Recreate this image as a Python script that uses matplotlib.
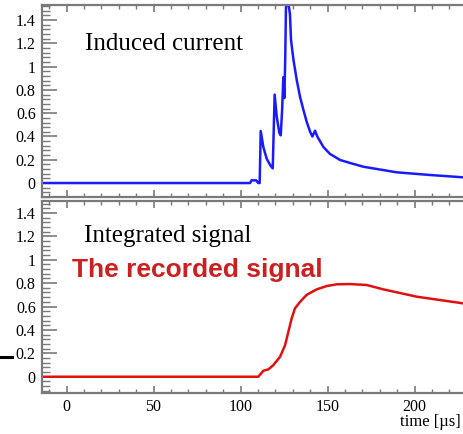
import matplotlib
matplotlib.use("Agg")
import matplotlib.pyplot as plt
from matplotlib.ticker import MultipleLocator, FixedLocator
from matplotlib.lines import Line2D

# Induced current (top panel)
t_cur = [-14, 105.5, 106.3, 109.0, 110.2, 111.0, 111.6, 113.1, 115.0, 117.0, 118.5,
         119.6, 120.8, 122.3, 123.1, 123.9, 124.6, 125.2, 125.7, 126.1, 127.2,
         128.4, 129.0, 130.4, 132.3, 134.2, 136.1, 138.0, 140.0, 141.3, 142.8,
         144.1, 147.6, 151.4, 157.2, 163.0, 170.6, 189.8, 209.0, 228.0, 240]
i_cur = [0, 0, 0.023, 0.023, 0.0, 0.0, 0.447, 0.31, 0.21, 0.155, 0.126,
         0.76, 0.57, 0.43, 0.41, 0.63, 0.91, 0.73, 1.085, 1.51, 1.58,
         1.45, 1.23, 1.06, 0.885, 0.74, 0.63, 0.527, 0.44, 0.40, 0.45,
         0.40, 0.31, 0.25, 0.198, 0.172, 0.14, 0.092, 0.069, 0.049, 0.043]

# Integrated signal (bottom panel)
t_int = [-14, 110.2, 113.1, 116.0, 118.9, 122.7, 125.6, 127.5, 129.4, 131.3, 134.2,
         138.0, 143.8, 149.5, 155.3, 163.0, 172.5, 182.0, 201.3, 228.0, 240]
s_int = [0, 0, 0.051, 0.063, 0.10, 0.17, 0.27, 0.385, 0.50, 0.585, 0.64,
         0.70, 0.747, 0.775, 0.79, 0.792, 0.784, 0.747, 0.684, 0.627, 0.60]

y_ticks = [0, 0.2, 0.4, 0.6, 0.8, 1.0, 1.2, 1.4]
y_labels = ["0", "0.2", "0.4", "0.6", "0.8", "1", "1.2", "1.4"]
x_ticks = [0, 50, 100, 150, 200]
x_labels = ["0", "50", "100", "150", "200"]

W, H = 463, 434
fig = plt.figure(figsize=(W / 100, H / 100), dpi=100)

serif = "Liberation Serif"
grey = "#7a7a7a"

def style(ax):
    for s in ax.spines.values():
        s.set_color(grey)
        s.set_linewidth(1.6)
    ax.spines["right"].set_visible(False)
    ax.set_xlim(-14.08, 237.6)
    ax.xaxis.set_major_locator(FixedLocator(x_ticks))
    ax.xaxis.set_minor_locator(MultipleLocator(10))
    ax.yaxis.set_major_locator(FixedLocator(y_ticks))
    ax.yaxis.set_minor_locator(MultipleLocator(0.04))
    ax.tick_params(axis="y", which="major", direction="in", length=10.5, width=1.2,
                   color=grey, pad=4.5, labelsize=11.5)
    ax.tick_params(axis="y", which="minor", direction="in", length=5.5, width=1.0,
                   color=grey)
    ax.tick_params(axis="x", which="major", direction="in", length=5, width=1.2,
                   color=grey, pad=4, labelsize=11.5, top=True)
    ax.tick_params(axis="x", which="minor", direction="in", length=2.8, width=1.0,
                   color=grey, top=True)
    ax.set_yticklabels(y_labels, fontfamily=serif)

ax1 = fig.add_axes([42 / W, 1 - 197 / H, 438 / W, 192 / H])
ax1.plot(t_cur, i_cur, color="#1a1aff", lw=1.8)
ax1.set_ylim(-0.12, 1.53)
style(ax1)
ax1.set_xticklabels([])
ax1.text(85 / W, 1 - 44 / H, "Induced current", transform=fig.transFigure,
         fontfamily=serif, fontsize=18, va="center", ha="left")

ax2 = fig.add_axes([42 / W, 1 - 393 / H, 438 / W, 192 / H])
ax2.plot(t_int, s_int, color="#e01010", lw=1.8)
ax2.set_ylim(-0.139, 1.502)
style(ax2)
ax2.set_xticklabels(x_labels, fontfamily=serif)
ax2.text(84 / W, 1 - 236 / H, "Integrated signal", transform=fig.transFigure,
         fontfamily=serif, fontsize=18, va="center", ha="left")
ax2.text(72 / W, 1 - 270 / H, "The recorded signal", transform=fig.transFigure,
         fontfamily="Liberation Sans", fontweight="bold", fontsize=19,
         color="#cc1f1f", va="center", ha="left")

fig.text(461 / W, 1 - 422 / H, "time [µs]", fontfamily=serif, fontsize=12,
         va="center", ha="right")

fig.add_artist(Line2D([0, 12 / W], [1 - 357 / H, 1 - 357 / H], color="black",
                      lw=2.2, transform=fig.transFigure))

fig.savefig("out.png", dpi=100)
